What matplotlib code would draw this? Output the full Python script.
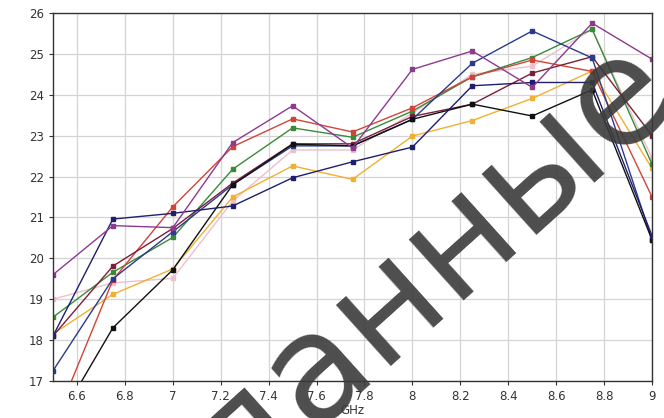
import matplotlib
matplotlib.use('Agg')
import matplotlib.pyplot as plt

# frequency points, GHz
freq = [6.5, 6.75, 7.0, 7.25, 7.5, 7.75, 8.0, 8.25, 8.5, 8.75, 9.0]

# gain curves
purple = [19.6, 20.8, 20.75, 22.83, 23.73, 22.7, 24.62, 25.07, 24.18, 25.75, 24.87]
navy = [18.1, 20.96, 21.1, 21.28, 21.97, 22.36, 22.72, 24.22, 24.3, 24.3, 20.55]
blue = [17.25, 19.5, 20.65, 21.8, 22.75, 22.75, 23.4, 24.77, 25.56, 24.9, 20.45]
red = [15.9, 19.47, 21.26, 22.73, 23.41, 23.09, 23.68, 24.44, 24.85, 24.57, 21.5]
green = [18.56, 19.66, 20.51, 22.18, 23.19, 22.96, 23.6, 24.44, 24.91, 25.6, 22.3]
black = [15.8, 18.3, 19.72, 21.8, 22.79, 22.75, 23.4, 23.77, 23.48, 24.12, 20.45]
yellow = [18.15, 19.12, 19.74, 21.5, 22.26, 21.93, 22.99, 23.37, 23.91, 24.58, 22.2]
pink = [19.0, 19.4, 19.51, 21.4, 22.65, 22.65, 23.55, 24.5, 24.7, 25.6, 22.45]
maroon = [18.1, 19.81, 20.73, 21.84, 22.8, 22.8, 23.47, 23.77, 24.53, 24.93, 23.0]

series = [
    (pink, '#ecc0cc'),
    (yellow, '#f0b030'),
    (green, '#3a8a3a'),
    (red, '#d0453a'),
    (maroon, '#7a1f3a'),
    (blue, '#2b3a8c'),
    (black, '#111111'),
    (navy, '#1f1f6b'),
    (purple, '#8e3a8e'),
]

xticks = [6.6, 6.8, 7, 7.2, 7.4, 7.6, 7.8, 8, 8.2, 8.4, 8.6, 8.8, 9]
xticklabels = ['6.6', '6.8', '7', '7.2', '7.4', '7.6', '7.8', '8', '8.2', '8.4', '8.6', '8.8', '9']
yticks = list(range(17, 27))

fig = plt.figure(figsize=(6.64, 4.18), dpi=100)
ax = fig.add_axes([0.0798, 0.0885, 0.9022, 0.8805])

for vals, col in series:
    ax.plot(freq, vals, color=col, lw=1.0, marker='s', ms=2.2, mec=col, mfc=col)

ax.set_xlim(6.5, 9)
ax.set_ylim(17, 26)
ax.set_xticks(xticks)
ax.set_xticklabels(xticklabels)
ax.set_yticks(yticks)
ax.grid(True, color='#d4d4d4', lw=0.9)
ax.set_axisbelow(True)
for s in ax.spines.values():
    s.set_color('#333333')
    s.set_linewidth(1.0)
ax.tick_params(labelsize=8.5, colors='#333333', length=3, width=0.8)
ax.set_xlabel('GHz', fontsize=8.5, color='#333333', labelpad=1)

# watermark
fig.text(0.648, 0.36, 'данные', fontsize=108, fontweight='normal', color='#3a3a3a',
         rotation=42, ha='center', va='center', rotation_mode='anchor', alpha=0.9)

fig.savefig('out.png', dpi=100)
